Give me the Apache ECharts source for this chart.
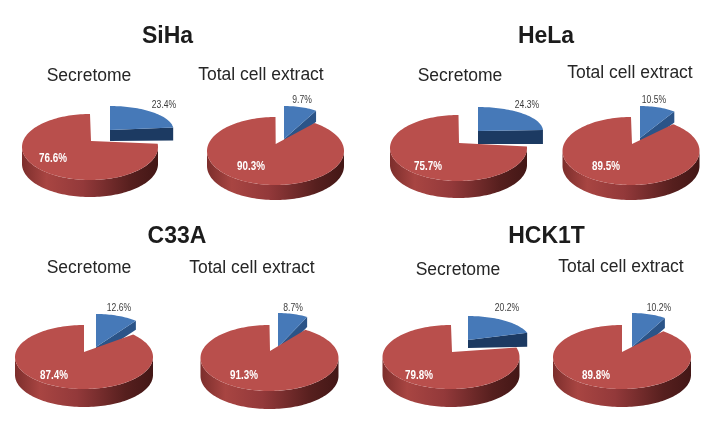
<!DOCTYPE html>
<html><head><meta charset="utf-8">
<style>html,body{margin:0;padding:0;background:#fff}#c{width:708px;height:437px}</style>
<script src="https://cdn.jsdelivr.net/npm/echarts@6/dist/echarts.min.js"></script>
</head><body><div id="c"></div>
<script>
const samples = ['SiHa', 'HeLa', 'C33A', 'HCK1T'];
const panelNames = ['Secretome', 'Total cell extract'];
const secretomeBlue = [23.4, 24.3, 12.6, 20.2];
const secretomeRed = [76.6, 75.7, 87.4, 79.8];
const extractBlue = [9.7, 10.5, 8.7, 10.2];
const extractRed = [90.3, 89.5, 91.3, 89.8];

// layout only: [cx, cy, rx, ry, apexX, apexY, depth, apexDepth]
const redGeom = [
  [90,147,68,33,91,141,17],[275.5,151,68.5,34,275.7,144,15],
  [458.5,148,68.5,33,459,143,17],[631,151,68.5,34,632,144,15],
  [84,357,69,32,84,352,18],[269.5,358,69,33,270,351,18],
  [451,357,68.5,32,452,352,18],[622,357,69,32,622,352,18]
];
const blueGeom = [
  [110,130,63.5,24,110,130,13,11],[284,132,56,26,284,139,11,10],
  [478,131,65,24,478,131,14,13],[640,132,56,26,640,138,11,10],
  [96,337,56,23,96,347,9,9],[278,340,56,27,278,347,10,10],
  [468,340,62,24,468,340,14,8],[632,338,55,25,632,347,10,10]
];
const labelPos = [
  [[164,105],[53,159]],[[302,100],[251,167]],
  [[527,105],[428,167]],[[654,100],[606,167]],
  [[119,308],[54,376]],[[293,308],[244,376]],
  [[507,308],[419,376]],[[659,308],[596,376]]
];
const titlePos = [[167.5,37],[546,37],[177,237],[546.5,237]];
const subPos = [[[89,76],[261,75]],[[460,76],[630,73]],[[89,268],[252,268]],[[458,270],[621,267]]];

const RED='#b94f4c', BLUE='#4679b8';
const redWall={type:'linear',x:0,y:0,x2:1,y2:0,colorStops:[
  {offset:0,color:'#7c2e2c'},{offset:.18,color:'#a84542'},{offset:.45,color:'#93393a'},
  {offset:.8,color:'#561f1e'},{offset:1,color:'#431716'}]};
const blueWall='#1c3a62', blueCut='#2b5488';

function arc(g,a0,a1,dy){
  const pts=[], n=Math.max(2,Math.ceil(Math.abs(a1-a0)/2));
  for(let i=0;i<=n;i++){
    const a=(a0+(a1-a0)*i/n)*Math.PI/180;
    pts.push([g[0]+g[2]*Math.sin(a), g[1]-g[3]*Math.cos(a)+(dy||0)]);
  }
  return pts;
}
function renderItem(params, api){
  const pie=api.value(0), kind=api.value(1), val=api.value(2);
  const frac=val*3.6;
  const g=kind===0?blueGeom[pie]:redGeom[pie];
  const d=g[6], a0=kind===0?0:360-frac, a1=kind===0?frac:360;
  const kids=[], z=kind===0?1:10;
  const ap=[g[4],g[5]];
  if(kind===0){
    const tip=arc(g,a1,a1)[0];
    kids.push({type:'polygon',z2:z,shape:{points:[ap,tip,[tip[0],tip[1]+d],[ap[0],ap[1]+g[7]]]},
      style:{fill:val>15?blueWall:blueCut}});
  } else {
    const s=Math.max(a0,90), e=Math.min(a1,270);
    const top=arc(g,s,e), bot=arc(g,e,s,d);
    kids.push({type:'polygon',z2:z,shape:{points:top.concat(bot)},style:{fill:redWall}});
  }
  kids.push({type:'polygon',z2:z+1,shape:{points:[ap].concat(arc(g,a0,a1))},style:{fill:kind===0?BLUE:RED}});
  const lp=labelPos[pie][kind===0?0:1];
  kids.push({type:'text',z2:30,x:lp[0],y:lp[1],scaleX:kind===0?.78:.82,style:{
    text:val.toFixed(1)+'%',align:'center',verticalAlign:'middle',
    fontFamily:'"Liberation Sans",Arial,sans-serif',
    fontSize:kind===0?11:12,fontWeight:kind===0?'normal':'bold',
    fill:kind===0?'#3c3c3c':'#fff'}});
  return {type:'group',children:kids};
}
const sliceData=[];
samples.forEach((s,i)=>{
  sliceData.push([2*i,0,secretomeBlue[i]],[2*i,1,secretomeRed[i]],
                 [2*i+1,0,extractBlue[i]],[2*i+1,1,extractRed[i]]);
});
const texts=[];
samples.forEach((s,i)=>{
  texts.push({type:'text',x:titlePos[i][0],y:titlePos[i][1],style:{text:s,align:'center',verticalAlign:'middle',
    fontFamily:'"Liberation Sans",Arial,sans-serif',fontWeight:'bold',fontSize:23,fill:'#1c1c1c'}});
  panelNames.forEach((p,j)=>{
    texts.push({type:'text',x:subPos[i][j][0],y:subPos[i][j][1],style:{text:p,align:'center',verticalAlign:'middle',
      fontFamily:'"Liberation Sans",Arial,sans-serif',fontSize:17.5,fill:'#262626'}});
  });
});
const chart=echarts.init(document.getElementById('c'),null,{renderer:'canvas'});
chart.setOption({
  animation:false,backgroundColor:'#fff',
  graphic:{elements:texts},
  series:[{type:'custom',coordinateSystem:'none',renderItem,data:sliceData,silent:true}]
});
</script></body></html>
